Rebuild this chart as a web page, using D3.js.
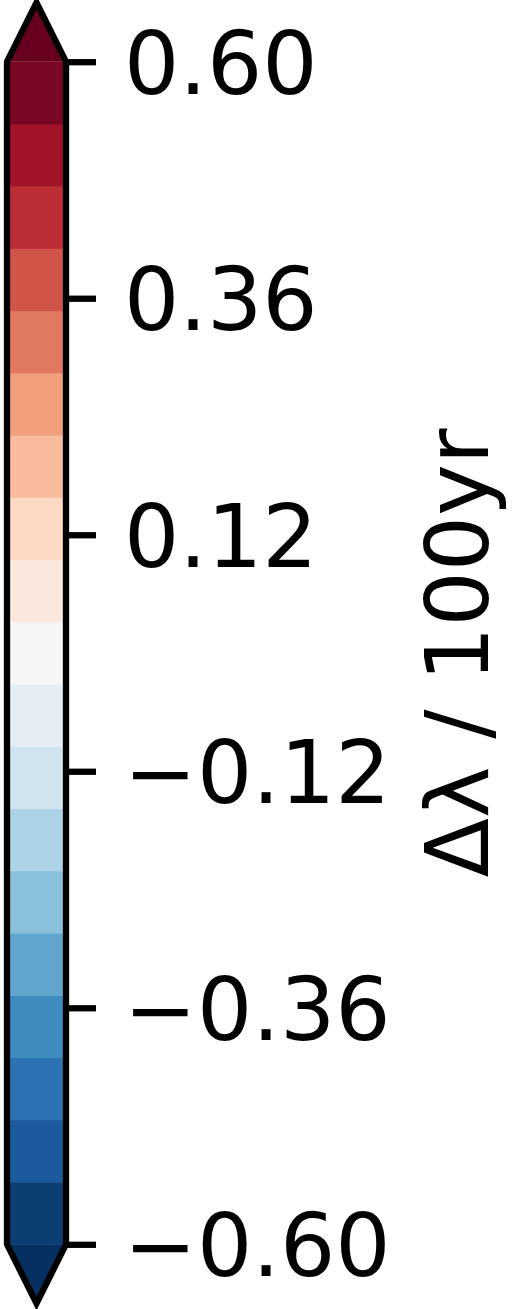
<!DOCTYPE html>
<html>
<head>
<meta charset="utf-8">
<script src="https://cdn.jsdelivr.net/npm/d3@7"></script>
<style>
  html, body { margin: 0; padding: 0; background: #fff; }
  svg { display: block; }
  text { font-family: "DejaVu Sans", sans-serif; fill: #000; }
</style>
</head>
<body>
<svg id="cb" width="513" height="1309"></svg>
<script>
// Contour levels (20 boundaries -> 19 colour bins), plus open ends on both sides
const levels = [-0.6, -0.536842, -0.473684, -0.410526, -0.347368, -0.284211,
  -0.221053, -0.157895, -0.094737, -0.031579, 0.031579, 0.094737, 0.157895,
  0.221053, 0.284211, 0.347368, 0.410526, 0.473684, 0.536842, 0.6];
const tickValues = [-0.6, -0.36, -0.12, 0.12, 0.36, 0.6];
const labelText = "Δλ / 100yr";

// Diverging blue–white–red palette anchors (low -> high)
const paletteAnchors = ["#053061", "#2166ac", "#4393c3", "#92c5de", "#d1e5f0",
  "#f7f7f7", "#fddbc7", "#f4a582", "#d6604d", "#b2182b", "#67001f"];

const svg = d3.select("#cb");

// Geometry of the bar
const x0 = 7, x1 = 66;
const y = d3.scaleLinear().domain([-0.6, 0.6]).range([1244.3, 61.7]);
const extLen = 0.05 * (y(-0.6) - y(0.6));

// Colour lookup: 256-entry table, each bin coloured by its normalised midpoint
const interp = d3.piecewise(d3.interpolateRgb, paletteAnchors);
const norm = d3.scaleLinear().domain([levels[0], levels[levels.length - 1]]).range([0, 1]);
const lut = v => {
  const k = Math.min(255, Math.max(0, Math.floor(norm(v) * 256)));
  return interp(k / 255);
};
const underColor = interp(0);
const overColor = interp(1);

const xm = (x0 + x1) / 2;

// Extension triangles
svg.append("path")
  .attr("d", `M${x0},${y(0.6)}L${xm},${y(0.6) - extLen}L${x1},${y(0.6)}Z`)
  .attr("fill", overColor);
svg.append("path")
  .attr("d", `M${x0},${y(-0.6)}L${xm},${y(-0.6) + extLen}L${x1},${y(-0.6)}Z`)
  .attr("fill", underColor);

// Colour bins
const bins = d3.pairs(levels);
svg.append("g").selectAll("rect")
  .data(bins)
  .join("rect")
  .attr("x", x0)
  .attr("width", x1 - x0)
  .attr("y", d => y(d[1]))
  .attr("height", d => y(d[0]) - y(d[1]) + 0.5)
  .attr("fill", d => lut((d[0] + d[1]) / 2));

// Outline
svg.append("path")
  .attr("d", `M${x0},${y(0.6)}L${xm},${y(0.6) - extLen}L${x1},${y(0.6)}` +
             `L${x1},${y(-0.6)}L${xm},${y(-0.6) + extLen}L${x0},${y(-0.6)}Z`)
  .attr("fill", "none")
  .attr("stroke", "#000")
  .attr("stroke-width", 6.3)
  .attr("stroke-linejoin", "miter");

// Axis on the right
const fmt = d => d3.format(".2f")(d).replace("-", "\u2212");
const axis = d3.axisRight(y)
  .tickValues(tickValues)
  .tickSize(30)
  .tickPadding(28)
  .tickFormat(fmt);

const ag = svg.append("g")
  .attr("transform", `translate(${x1},0)`)
  .call(axis);
ag.select(".domain").remove();
ag.selectAll(".tick line")
  .attr("stroke", "#000")
  .attr("stroke-width", 6.3)
  .attr("stroke-linecap", "butt");
ag.selectAll(".tick text")
  .attr("font-family", "DejaVu Sans")
  .attr("font-size", 87)
  .attr("dy", "0.364em")
  .attr("fill", "#000");

// Axis label
svg.append("text")
  .attr("transform", `translate(488,${(y(-0.6) + y(0.6)) / 2}) rotate(-90)`)
  .attr("text-anchor", "middle")
  .attr("font-size", 87)
  .text(labelText);
</script>
</body>
</html>
